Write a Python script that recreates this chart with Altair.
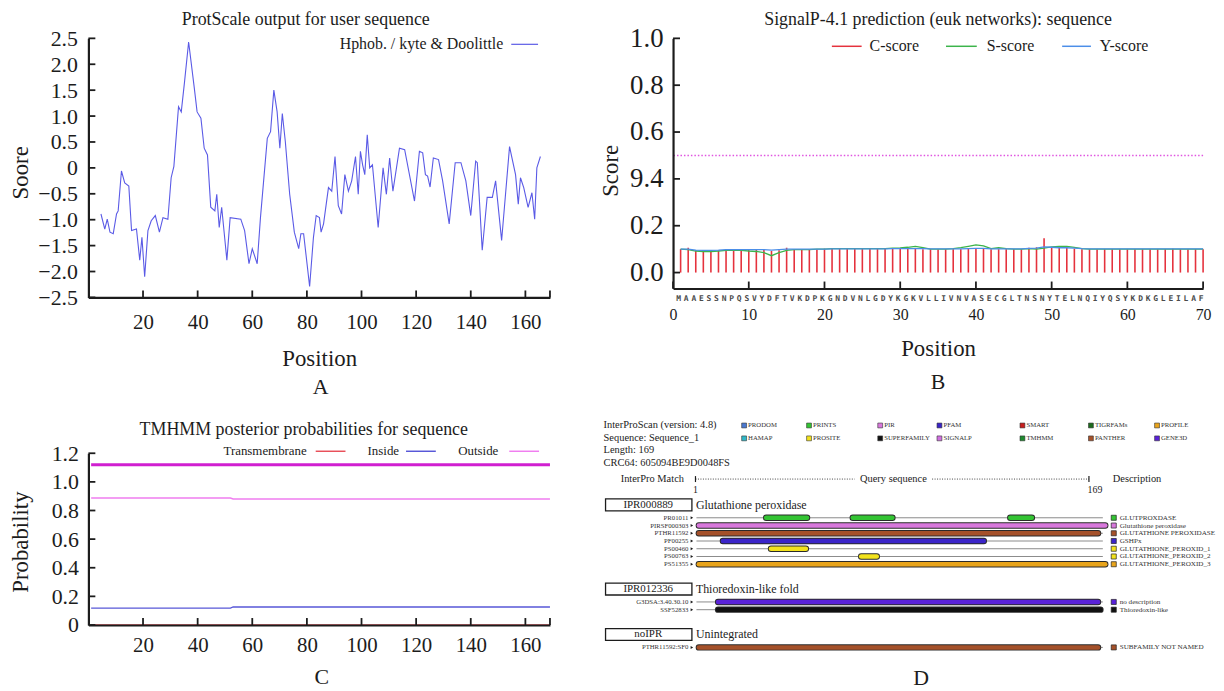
import altair as alt
import pandas as pd

FONT = "Liberation Serif"
MONO = "DejaVu Sans Mono"
INK = "#1c1c1c"

# ---------------- Panel A : ProtScale ----------------
a_title = "ProtScale output for user sequence"
a_series = "Hphob. / kyte & Doolittle"
a_pos = [4.6, 6.0, 6.9, 7.9, 9.1, 10.3, 10.9, 12.1, 13.3, 14.8,
         15.8, 17.6, 18.8, 19.6, 20.6, 21.8, 23.0, 24.5, 26.0, 27.3,
         29.1, 30.3, 31.3, 33.0, 34.0, 35.2, 36.7, 38.8, 39.8, 41.2,
         42.4, 43.6, 44.8, 46.3, 47.0, 47.9, 48.8, 50.7, 51.9, 55.8,
         57.2, 58.8, 60.0, 61.8, 63.0, 65.5, 66.7, 67.9, 69.1, 70.1,
         71.0, 72.1, 73.7, 75.4, 77.0, 77.8, 78.8, 81.0, 82.4, 83.4,
         84.6, 85.2, 86.1, 87.9, 89.1, 90.3, 91.5, 92.7, 93.9, 95.2,
         96.4, 97.8, 98.8, 99.6, 100.4, 101.2, 102.1, 103.0, 104.0, 106.1,
         107.9, 109.1, 110.3, 111.5, 113.9, 115.8, 119.4, 121.2, 122.4, 123.4,
         124.2, 125.1, 126.3, 128.2, 129.7, 132.1, 134.3, 136.4, 138.2, 140.0,
         141.8, 142.4, 144.2, 146.0, 147.9, 149.1, 151.3, 154.2, 156.4, 157.4,
         158.2, 159.4, 161.0, 162.4, 163.4, 164.2, 165.5]
a_score = [-0.89, -1.18, -0.99, -1.24, -1.27, -0.89, -0.83, -0.06, -0.29, -0.35,
           -1.21, -1.18, -1.78, -1.34, -2.10, -1.21, -1.02, -0.92, -1.24, -0.96,
           -0.99, -0.19, 0.03, 1.18, 1.08, 1.66, 2.43, 1.53, 1.08, 0.96,
           0.38, 0.25, -0.76, -0.83, -0.51, -1.15, -0.76, -1.78, -0.96, -0.99,
           -1.21, -1.85, -1.56, -1.85, -0.96, 0.57, 0.70, 1.50, 1.08, 0.38,
           1.05, 0.51, -0.51, -1.24, -1.56, -1.27, -1.27, -2.29, -1.34, -0.92,
           -0.96, -1.24, -1.08, -0.38, -0.45, 0.22, -0.73, -0.89, -0.13, -0.45,
           -0.25, 0.22, -0.51, 0.32, 0.06, -0.13, 0.64, 0.00, 0.06, -1.15,
           0.00, -0.51, 0.19, -0.45, 0.38, 0.35, -0.64, 0.32, 0.29, -0.13,
           -0.16, -0.37, 0.19, 0.16, -0.25, -1.08, 0.10, 0.10, -0.25, -0.92,
           0.13, 0.10, -1.59, -0.57, -0.57, -0.25, -1.40, 0.41, -0.13, -0.70,
           -0.19, -0.38, -0.76, -0.48, -0.99, 0.00, 0.22]
a_xticks = [20, 40, 60, 80, 100, 120, 140, 160]
a_yticks = [-2.5, -2.0, -1.5, -1.0, -0.5, 0.0, 0.5, 1.0, 1.5, 2.0, 2.5]
seq_len = 169

# ---------------- Panel B : SignalP ----------------
b_title = "SignalP-4.1 prediction (euk networks): sequence"
b_seq = "MAAESSNPQSVYDFTVKDPKGNDVNLGDYKGKVLLIVNVASECGLTNSNYTELNQIYQSYKDKGLEILAF"
b_c = [0.100, 0.106, 0.095, 0.095, 0.095, 0.095, 0.100, 0.100, 0.100, 0.098,
       0.098, 0.097, 0.092, 0.095, 0.106, 0.100, 0.100, 0.100, 0.100, 0.102,
       0.102, 0.102, 0.102, 0.102, 0.102, 0.102, 0.102, 0.102, 0.105, 0.102,
       0.102, 0.102, 0.100, 0.100, 0.100, 0.100, 0.100, 0.100, 0.102, 0.102,
       0.102, 0.100, 0.100, 0.100, 0.100, 0.100, 0.106, 0.108, 0.146, 0.105,
       0.105, 0.105, 0.102, 0.100, 0.100, 0.100, 0.100, 0.100, 0.100, 0.100,
       0.100, 0.100, 0.100, 0.100, 0.100, 0.102, 0.100, 0.100, 0.100, 0.100]
b_s = [0.100, 0.098, 0.092, 0.090, 0.090, 0.092, 0.095, 0.095, 0.095, 0.092,
       0.090, 0.085, 0.072, 0.085, 0.095, 0.098, 0.098, 0.098, 0.100, 0.100,
       0.102, 0.102, 0.102, 0.102, 0.102, 0.102, 0.102, 0.102, 0.104, 0.105,
       0.108, 0.112, 0.106, 0.100, 0.100, 0.100, 0.102, 0.106, 0.112, 0.118,
       0.114, 0.102, 0.106, 0.102, 0.100, 0.100, 0.102, 0.100, 0.104, 0.110,
       0.112, 0.112, 0.108, 0.102, 0.100, 0.100, 0.100, 0.100, 0.100, 0.100,
       0.100, 0.100, 0.100, 0.100, 0.100, 0.100, 0.100, 0.100, 0.100, 0.100]
b_y = [0.100, 0.100, 0.096, 0.095, 0.095, 0.096, 0.098, 0.098, 0.098, 0.098,
       0.098, 0.098, 0.096, 0.098, 0.100, 0.100, 0.100, 0.100, 0.100, 0.100,
       0.101, 0.101, 0.101, 0.101, 0.101, 0.101, 0.101, 0.101, 0.102, 0.102,
       0.102, 0.102, 0.102, 0.101, 0.101, 0.101, 0.101, 0.101, 0.102, 0.103,
       0.103, 0.101, 0.101, 0.101, 0.101, 0.101, 0.103, 0.104, 0.110, 0.108,
       0.106, 0.106, 0.104, 0.102, 0.101, 0.101, 0.101, 0.101, 0.101, 0.101,
       0.101, 0.101, 0.101, 0.101, 0.101, 0.101, 0.101, 0.101, 0.101, 0.101]
b_cutoff = [0.5]
b_series = ["C-score", "S-score", "Y-score"]
b_xticks = [0, 10, 20, 30, 40, 50, 60, 70]
b_yticks = [0.0, 0.2, 0.4, 0.6, 0.8, 1.0]
b_ylabels = ["0.0", "0.2", "9.4", "0.6", "0.8", "1.0"]

# ---------------- Panel C : TMHMM ----------------
c_title = "TMHMM posterior probabilities for sequence"
c_series = ["Transmembrane", "Inside", "Outside"]
c_pos = [1, 52, 53, 169]
c_tm = [0.0, 0.0, 0.0, 0.0]
c_inside = [0.118, 0.118, 0.126, 0.126]
c_outside = [0.887, 0.887, 0.880, 0.880]
c_topo_pos = [1, 169]
c_topo_level = [1.12, 1.12]
c_yticks = [0.0, 0.2, 0.4, 0.6, 0.8, 1.0, 1.2]

# ---------------- Panel D : InterProScan ----------------
d_info = ["InterProScan (version: 4.8)", "Sequence: Sequence_1", "Length: 169",
          "CRC64: 605094BE9D0048FS"]
db_names = ["PRODOM", "PRINTS", "PIR", "PFAM", "SMART", "TIGRFAMs", "PROFILE",
            "HAMAP", "PROSITE", "SUPERFAMILY", "SIGNALP", "TMHMM", "PANTHER", "GENE3D"]
group_ids = ["IPR000889", "IPR012336", "noIPR"]
group_names = ["Glutathione peroxidase", "Thioredoxin-like fold", "Unintegrated"]
track_ids = ["PR01011", "PIRSF000303", "PTHR11592", "PF00255", "PS00460", "PS00763",
             "PS51355", "G3DSA:3.40.30.10", "SSF52833", "PTHR11592:SF0"]
track_db = ["PRINTS", "PIR", "PANTHER", "PFAM", "PROSITE", "PROSITE", "PROFILE",
            "GENE3D", "SUPERFAMILY", "PANTHER"]
track_group = [0, 0, 0, 0, 0, 0, 0, 1, 1, 2]
track_desc = ["GLUTPROXDASE", "Glutathione peroxidase", "GLUTATHIONE PEROXIDASE", "GSHPx",
              "GLUTATHIONE_PEROXID_1", "GLUTATHIONE_PEROXID_2", "GLUTATHIONE_PEROXID_3",
              "no description", "Thioredoxin-like", "SUBFAMILY NOT NAMED"]
hit_track = [0, 0, 0, 1, 2, 3, 4, 5, 6, 7, 8, 9]
hit_start = [29, 65, 130.5, 1, 1, 11, 31, 68.5, 1, 9, 9, 1]
hit_end = [46, 81.5, 139.5, 170, 167, 119.5, 45.5, 75, 170, 167, 168, 167]

# styles (palette)
db_colors = ["#4a78d0", "#33c433", "#d878dc", "#3a24c8", "#c81e1e", "#1d6b1d", "#e8a41c",
             "#30b8c8", "#f2e21c", "#111111", "#d070e0", "#1e8a2e", "#a5512a", "#5a22d8"]

one = pd.DataFrame({"k": [0]})


def txt(text, x, y, size, align="center", baseline="middle", color=INK, font=FONT, **kw):
    return alt.Chart(pd.DataFrame({"t": [text]})).mark_text(
        align=align, baseline=baseline, font=font, fontSize=size, color=color, **kw
    ).encode(text="t:N", x=alt.value(x), y=alt.value(y))


def seg(x1, x2, y, color, width=1.5, dash=None):
    kw = {} if dash is None else {"strokeDash": dash}
    return alt.Chart(one).mark_rule(color=color, strokeWidth=width, **kw).encode(
        x=alt.value(x1), x2=alt.value(x2), y=alt.value(y))


def vseg(x, y1, y2, color=INK, width=1.2):
    return alt.Chart(one).mark_rule(color=color, strokeWidth=width).encode(
        x=alt.value(x), y=alt.value(y1), y2=alt.value(y2))


def xaxis(values, fs, pad, title, ty, tfs=23):
    return alt.Axis(values=values, ticks=False, grid=False, domainColor=INK,
                    domainWidth=2.2, labelFont=FONT, labelFontSize=fs, labelColor=INK,
                    labelPadding=pad, labelFlush=False, labelOverlap=False, zindex=1,
                    title=title, titleFont=FONT, titleFontSize=tfs, titleFontWeight="normal",
                    titleColor=INK, titleY=ty, titleBaseline="top")


def yaxis(values, fs, pad, title, tx, ty, expr, tfs=23):
    return alt.Axis(values=values, ticks=False, grid=False, domainColor=INK,
                    domainWidth=2.2, labelFont=FONT, labelFontSize=fs, labelColor=INK,
                    labelPadding=pad, labelFlush=False, labelOverlap=False, labelExpr=expr,
                    zindex=1, title=title, titleFont=FONT, titleFontSize=tfs,
                    titleFontWeight="normal", titleColor=INK, titleAngle=270, titleX=tx,
                    titleY=ty, titleBaseline="middle", titleAlign="center")


def inward_x(vals, field, scale, axis, h):
    return alt.Chart(pd.DataFrame({field: vals})).mark_rule(color=INK, strokeWidth=1.8).encode(
        x=alt.X(f"{field}:Q", scale=scale, axis=axis), y=alt.value(h), y2=alt.value(h - 7))


def inward_y(vals, field, scale, axis):
    return alt.Chart(pd.DataFrame({field: vals})).mark_rule(color=INK, strokeWidth=1.8).encode(
        y=alt.Y(f"{field}:Q", scale=scale, axis=axis), x=alt.value(0), x2=alt.value(7))


# ================= A =================
A_W, A_H = 465, 261
xA = alt.Scale(domain=[0, seq_len], nice=False, zero=False)
yA = alt.Scale(domain=[-2.5, 2.5], nice=False, zero=False)
exprA = ("datum.value == 0 ? '0' : (datum.value < 0 ? '\u2212' + format(-datum.value, '.1f')"
         " : format(datum.value, '.1f'))")
axA_x = xaxis(a_xticks, 21, 14, "Position", 51)
axA_y = yaxis(a_yticks, 22, 11, "Soore", -68, 135, exprA)
lineA = alt.Chart(pd.DataFrame({"pos": a_pos, "score": a_score})).mark_line(
    color="#5a5ae6", strokeWidth=1.1).encode(
    x=alt.X("pos:Q", scale=xA, axis=axA_x),
    y=alt.Y("score:Q", scale=yA, axis=axA_y))
A = alt.layer(
    lineA,
    inward_x(a_xticks + [seq_len], "pos", xA, axA_x, A_H),
    inward_y(a_yticks, "score", yA, axA_y),
    txt(a_title, 219, -18, 18),
    txt(a_series, 418, 6, 16, align="right"),
    seg(426, 453, 6, "#5a5ae6", 1.2),
    txt("A", 234, 351, 22),
).properties(width=A_W, height=A_H)

# ================= B =================
B_W, B_H = 534, 252
xB = alt.Scale(domain=[0, 70], nice=False, zero=False)
yB = alt.Scale(domain=[-0.068, 1.0], range=[B_H, 0], nice=False, zero=False)
b_pos = list(range(1, len(b_seq) + 1))
exprB = "[" + ",".join(f"'{l}'" for l in b_ylabels) + "][round(datum.value*5)]"
axB_x = xaxis(b_xticks, 16, 18, "Position", 50)
axB_y = yaxis(b_yticks, 27, 10, "Score", -63, 133, exprB)
cB = alt.Chart(pd.DataFrame({"pos": b_pos, "score": b_c, "base": [0.0] * len(b_pos)})).mark_rule(
    color="#e5323d", strokeWidth=1.6).encode(
    x=alt.X("pos:Q", scale=xB, axis=axB_x),
    y=alt.Y("score:Q", scale=yB, axis=axB_y),
    y2="base:Q")
sB = alt.Chart(pd.DataFrame({"pos": b_pos, "score": b_s})).mark_line(
    color="#3cb44b", strokeWidth=1.3).encode(
    x=alt.X("pos:Q", scale=xB, axis=axB_x), y=alt.Y("score:Q", scale=yB, axis=axB_y))
yyB = alt.Chart(pd.DataFrame({"pos": b_pos, "score": b_y})).mark_line(
    color="#4c8ee8", strokeWidth=1.3).encode(
    x=alt.X("pos:Q", scale=xB, axis=axB_x), y=alt.Y("score:Q", scale=yB, axis=axB_y))
cutB = alt.Chart(pd.DataFrame({"score": b_cutoff})).mark_rule(
    color="#e055e0", strokeWidth=1.6, strokeDash=[1.5, 2]).encode(
    y=alt.Y("score:Q", scale=yB, axis=axB_y))
lettersB = alt.Chart(pd.DataFrame({"pos": b_pos, "aa": list(b_seq)})).mark_text(
    font=MONO, fontSize=8, fontWeight="bold", color="#4a4a4a", baseline="middle", dx=-2).encode(
    x=alt.X("pos:Q", scale=xB, axis=axB_x), y=alt.value(B_H + 11), text="aa:N")
B = alt.layer(
    cB, sB, yyB, cutB, lettersB,
    inward_x(b_xticks, "pos", xB, axB_x, B_H),
    inward_y(b_yticks, "score", yB, axB_y),
    txt(b_title, 267, -18, 18),
    seg(160, 190, 8, "#e5323d"), txt(b_series[0], 198, 8, 16, align="left"),
    seg(275, 306, 8, "#3cb44b"), txt(b_series[1], 316, 8, 16, align="left"),
    seg(392, 421, 8, "#4c8ee8"), txt(b_series[2], 430, 8, 16, align="left"),
    txt("B", 267, 346, 22),
).properties(width=B_W, height=B_H)

# ================= C =================
C_W, C_H = 465, 173
xC = alt.Scale(domain=[0, seq_len], nice=False, zero=False)
yC = alt.Scale(domain=[0, 1.2], nice=False, zero=False)
exprC = "datum.value == 0 ? '0' : format(datum.value, '.1f')"
axC_x = xaxis(a_xticks, 21, 10, " ", 50)
axC_y = yaxis(c_yticks, 22, 10, "Probability", -68, 89, exprC)
dfC = pd.DataFrame({"pos": c_pos, "prob": c_tm})
tmC = alt.Chart(dfC).mark_line(color="#e8505a", strokeWidth=1.3).encode(
    x=alt.X("pos:Q", scale=xC, axis=axC_x),
    y=alt.Y("prob:Q", scale=yC, axis=axC_y))
inC = alt.Chart(pd.DataFrame({"pos": c_pos, "prob": c_inside})).mark_line(
    color="#5858d8", strokeWidth=1.4).encode(
    x=alt.X("pos:Q", scale=xC, axis=axC_x), y=alt.Y("prob:Q", scale=yC, axis=axC_y))
outC = alt.Chart(pd.DataFrame({"pos": c_pos, "prob": c_outside})).mark_line(
    color="#f07ef0", strokeWidth=1.5).encode(
    x=alt.X("pos:Q", scale=xC, axis=axC_x), y=alt.Y("prob:Q", scale=yC, axis=axC_y))
topoC = alt.Chart(pd.DataFrame({"pos": c_topo_pos, "prob": c_topo_level})).mark_line(
    color="#d01fd0", strokeWidth=3).encode(
    x=alt.X("pos:Q", scale=xC, axis=axC_x), y=alt.Y("prob:Q", scale=yC, axis=axC_y))
C = alt.layer(
    tmC, inC, outC, topoC,
    inward_x(a_xticks + [seq_len], "pos", xC, axC_x, C_H),
    inward_y(c_yticks, "prob", yC, axC_y),
    txt(c_title, 217, -23, 18),
    txt(c_series[0], 220, -2, 13, align="right"), seg(229, 259, -2, "#e8505a"),
    txt(c_series[1], 313, -2, 13, align="right"), seg(320, 350, -2, "#5858d8"),
    txt(c_series[2], 413, -2, 13, align="right"), seg(424, 454, -2, "#f07ef0"),
    txt("C", 235, 225, 22),
).properties(width=C_W, height=C_H)

# ================= D =================
D_W, D_H = 547, 173
xD = alt.Scale(domain=[1, seq_len], range=[26, 433], nice=False, zero=False)
pxD = alt.Scale(domain=[0, D_W], range=[0, D_W], nice=False, zero=False)
pyD = alt.Scale(domain=[0, D_H], range=[0, D_H], nice=False, zero=False)
colD = alt.Scale(domain=db_names, range=db_colors)

# layout of rows (computed)
group_y, track_y = [], []
yy = 52.0
for g in range(len(group_ids)):
    group_y.append(yy)
    yy += 13
    for t in range(len(track_ids)):
        if track_group[t] == g:
            track_y.append(yy)
            yy += 7.8
    yy += 25 - 7.8

leg_col_x = [71.6, 137, 208.7, 268.4, 352, 421, 487.6]
leg_row_y = [-28, -15]
dfLeg = pd.DataFrame({"db": db_names,
                      "px": [leg_col_x[i % 7] for i in range(len(db_names))],
                      "y": [leg_row_y[i // 7] for i in range(len(db_names))]})
dfInfo = pd.DataFrame({"t": d_info, "y": [-28 + 12.5 * i for i in range(len(d_info))]})
dfGrp = pd.DataFrame({"gid": group_ids, "name": group_names, "y": group_y,
                      "y0": [v - 6 for v in group_y], "y1": [v + 6 for v in group_y]})
dfTrk = pd.DataFrame({"tid": track_ids, "db": track_db, "desc": track_desc, "y": track_y,
                      "b0": [0] * len(track_ids), "b1": [seq_len] * len(track_ids)})
dfHit = pd.DataFrame({"start": hit_start, "end": hit_end,
                      "db": [track_db[i] for i in hit_track],
                      "y": [track_y[i] for i in hit_track]})

Y = alt.Y("y:Q", scale=pyD, axis=None)
infoD = alt.Chart(dfInfo).mark_text(align="left", baseline="middle", font=FONT, fontSize=10.5,
                                    color=INK).encode(text="t:N", x=alt.value(-70), y=Y)
legSq = alt.Chart(dfLeg).mark_square(size=24, filled=True, stroke="#333", strokeWidth=0.6,
                                     opacity=1).encode(
    x=alt.X("px:Q", scale=pxD, axis=None), y=Y,
    color=alt.Color("db:N", scale=colD, legend=None))
legTx = alt.Chart(dfLeg).mark_text(align="left", baseline="middle", font=FONT, fontSize=6.8,
                                   color="#333", dx=4).encode(
    x=alt.X("px:Q", scale=pxD, axis=None), y=Y, text="db:N")
grpBox = alt.Chart(dfGrp).mark_rect(fill="white", stroke=INK, strokeWidth=1.3).encode(
    x=alt.value(-68), x2=alt.value(19), y=alt.Y("y0:Q", scale=pyD, axis=None), y2="y1:Q")
grpId = alt.Chart(dfGrp).mark_text(baseline="middle", font=FONT, fontSize=11, color=INK).encode(
    x=alt.value(-25), y=Y, text="gid:N")
grpName = alt.Chart(dfGrp).mark_text(align="left", baseline="middle", font=FONT, fontSize=12,
                                     color=INK).encode(x=alt.value(23), y=Y, text="name:N")
trkLab = alt.Chart(dfTrk).mark_text(align="right", baseline="middle", font=FONT, fontSize=6.8,
                                    color="#333").encode(x=alt.value(15.5), y=Y, text="tid:N")
trkMark = alt.Chart(dfTrk).mark_point(shape="triangle-right", filled=True, size=9,
                                      color=INK, opacity=1).encode(x=alt.value(19), y=Y)
trkBase = alt.Chart(dfTrk).mark_rule(color="#8a8a8a", strokeWidth=1).encode(
    x=alt.X("b0:Q", scale=xD, axis=None), x2="b1:Q", y=Y)
hitOut = alt.Chart(dfHit).mark_rule(color="#2a2a2a", strokeWidth=6.4, strokeCap="round").encode(
    x=alt.X("start:Q", scale=xD, axis=None), x2="end:Q", y=Y)
hitIn = alt.Chart(dfHit).mark_rule(strokeWidth=4.6, strokeCap="round").encode(
    x=alt.X("start:Q", scale=xD, axis=None), x2="end:Q", y=Y,
    color=alt.Color("db:N", scale=colD, legend=None))
descSq = alt.Chart(dfTrk).mark_square(size=26, filled=True, stroke="#222", strokeWidth=0.7,
                                      opacity=1).encode(
    x=alt.value(444), y=Y, color=alt.Color("db:N", scale=colD, legend=None))
descTx = alt.Chart(dfTrk).mark_text(align="left", baseline="middle", font=FONT, fontSize=7.2,
                                    color="#333").encode(x=alt.value(450), y=Y, text="desc:N")
D = alt.layer(
    infoD, legSq, legTx,
    txt("InterPro Match", 11, 26, 10.5, align="right"),
    seg(22.6, 183, 26, "#444", 1, [1, 1.5]), seg(261, 419, 26, "#444", 1, [1, 1.5]),
    vseg(22.6, 23, 29), vseg(419, 23, 29),
    txt("Query sequence", 222, 26, 10.5),
    txt("1", 22.6, 37, 10), txt(str(seq_len), 425, 37, 10),
    txt("Description", 443, 26, 10.5, align="left"),
    grpBox, grpId, grpName, trkLab, trkMark, trkBase, hitOut, hitIn, descSq, descTx,
    txt("D", 250, 226, 22),
).resolve_scale(x="independent").properties(width=D_W, height=D_H)

chart = alt.concat(
    A, B, C, D, columns=2, spacing={"row": 157, "column": 124}, bounds="flush"
).configure_view(stroke=None).properties(
    padding={"left": 2, "top": 1, "right": 0, "bottom": 0}, background="white")

chart.save("out.html", embed_options={"renderer": "svg", "actions": False})
